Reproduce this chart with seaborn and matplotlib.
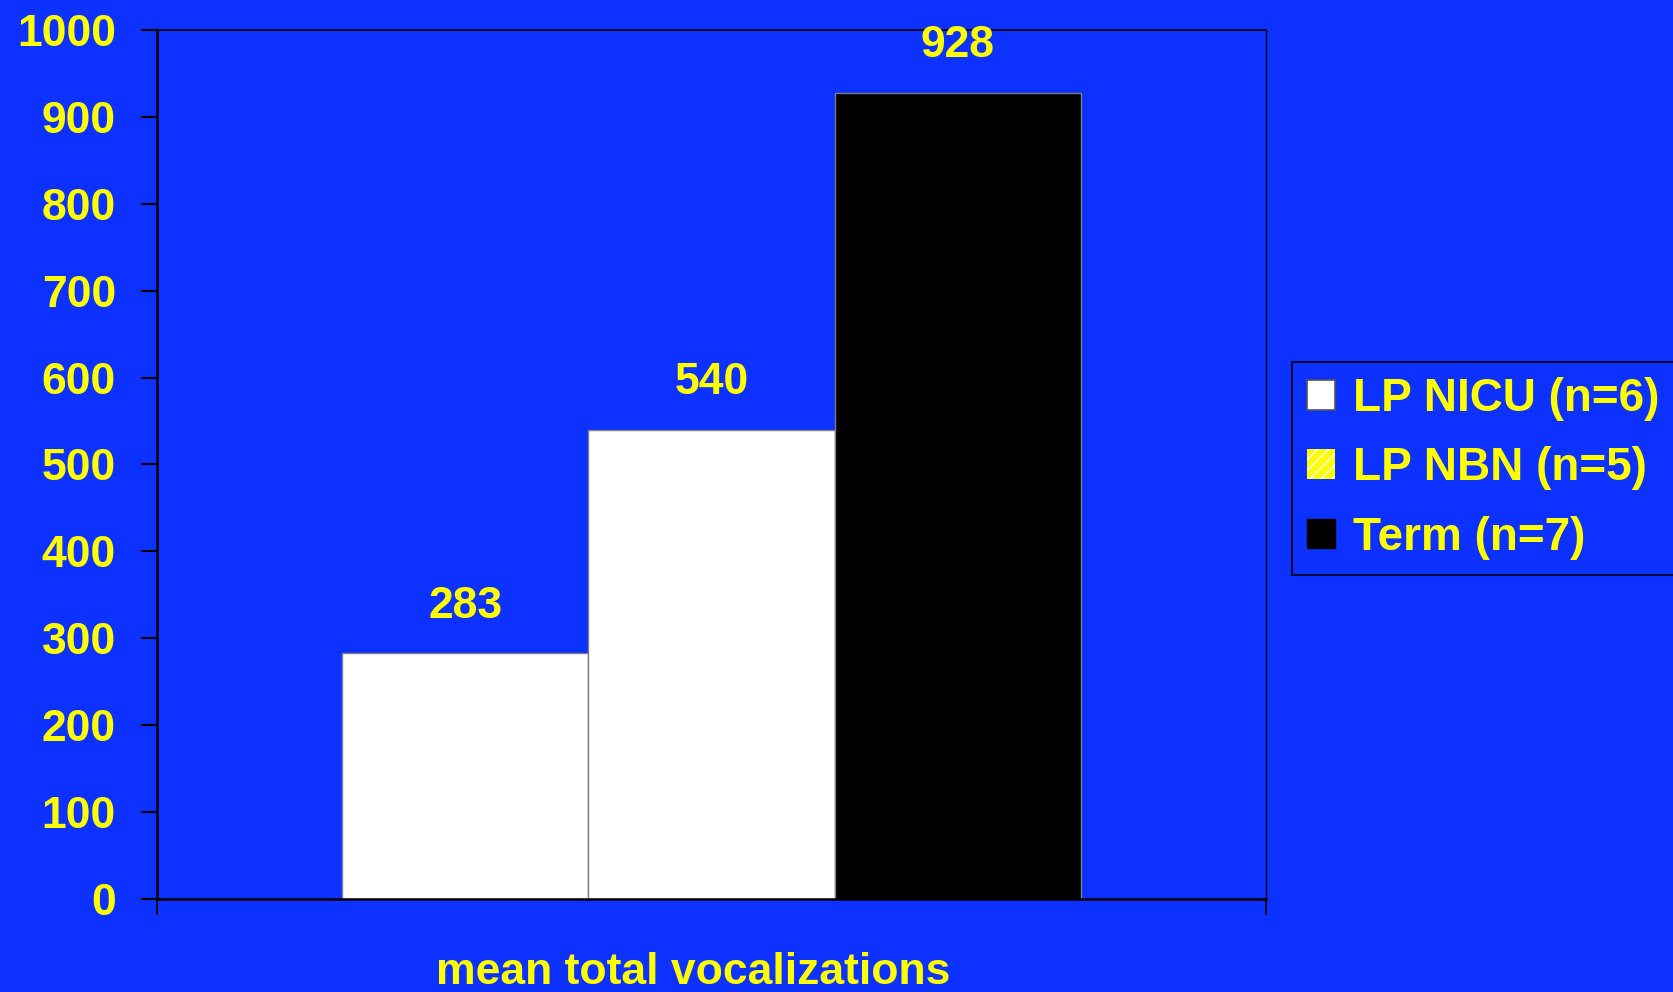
import matplotlib
matplotlib.use("Agg")
import matplotlib.pyplot as plt
from matplotlib.patches import Patch
import pandas as pd
import seaborn as sns

# Data
measure = ["mean total vocalizations"]
groups = ["LP NICU (n=6)", "LP NBN (n=5)", "Term (n=7)"]
values = [283, 540, 928]
y_ticks = [0, 100, 200, 300, 400, 500, 600, 700, 800, 900, 1000]

BG = "#0D31FF"
YELLOW = "#FFFF00"
bar_colors = ["#FFFFFF", "#FFFFFF", "#000000"]

df = pd.DataFrame({
    "measure": measure * len(groups),
    "group": groups,
    "value": values,
})

sns.set_theme(style="white")
plt.rcParams["font.family"] = ["Liberation Sans", "DejaVu Sans"]
plt.rcParams["font.weight"] = "bold"

fig = plt.figure(figsize=(16.73, 9.92), dpi=100, facecolor=BG)
ax = fig.add_axes([0.0938, 0.0938, 0.6629, 0.876])
ax.set_facecolor(BG)

sns.barplot(data=df, x="measure", y="value", hue="group", hue_order=groups,
            palette=bar_colors, width=0.666, gap=0, dodge=True,
            edgecolor="#7f7f7f", linewidth=1.0, legend=False, ax=ax)

for cont, v in zip(ax.containers, values):
    ax.bar_label(cont, labels=[f"{v}"], padding=19, color=YELLOW,
                 fontsize=32, fontweight="bold")

ax.set_xlim(-0.5, 0.5)
ax.set_ylim(0, 1000)
ax.set_yticks(y_ticks)
ax.set_yticklabels([str(t) for t in y_ticks])
ax.tick_params(axis="y", which="major", direction="out", length=11.5, width=1.5,
               color="black", labelcolor=YELLOW, labelsize=32, pad=18, left=True)

# category label under the axis, end ticks at both sides of the x range
ax.set_xticks([-0.0167])
ax.set_xticklabels(measure)
ax.set_xticks([-0.5, 0.5], minor=True)
ax.tick_params(axis="x", which="major", length=0, labelcolor=YELLOW,
               labelsize=32, pad=38)
ax.tick_params(axis="x", which="minor", direction="out", length=11.5, width=1.2,
               color="black", bottom=True)
for lab in ax.get_xticklabels() + ax.get_yticklabels():
    lab.set_fontweight("bold")
ax.set_xlabel("")
ax.set_ylabel("")

for side, lw in [("left", 1.8), ("bottom", 1.8), ("top", 1.2), ("right", 1.0)]:
    ax.spines[side].set_visible(True)
    ax.spines[side].set_color("black")
    ax.spines[side].set_linewidth(lw)

handles = [
    Patch(facecolor="#FFFFFF", edgecolor="#555555", linewidth=1.2),
    Patch(facecolor=YELLOW, edgecolor="#FFFFFF", hatch="///", linewidth=0),
    Patch(facecolor="#000000", edgecolor="#000000", linewidth=1.0),
]
leg = fig.legend(handles=handles, labels=groups, loc="upper left",
                 bbox_to_anchor=(0.7723, 0.6351), frameon=True,
                 fontsize=33, handlelength=0.61, handleheight=0.61,
                 handletextpad=0.4, borderpad=0.33, labelspacing=0.55,
                 borderaxespad=0, fancybox=False)
leg.get_frame().set_facecolor(BG)
leg.get_frame().set_edgecolor("black")
leg.get_frame().set_linewidth(1.5)
for t in leg.get_texts():
    t.set_color(YELLOW)
    t.set_fontweight("bold")

fig.savefig("out.png", dpi=100, facecolor=BG)
